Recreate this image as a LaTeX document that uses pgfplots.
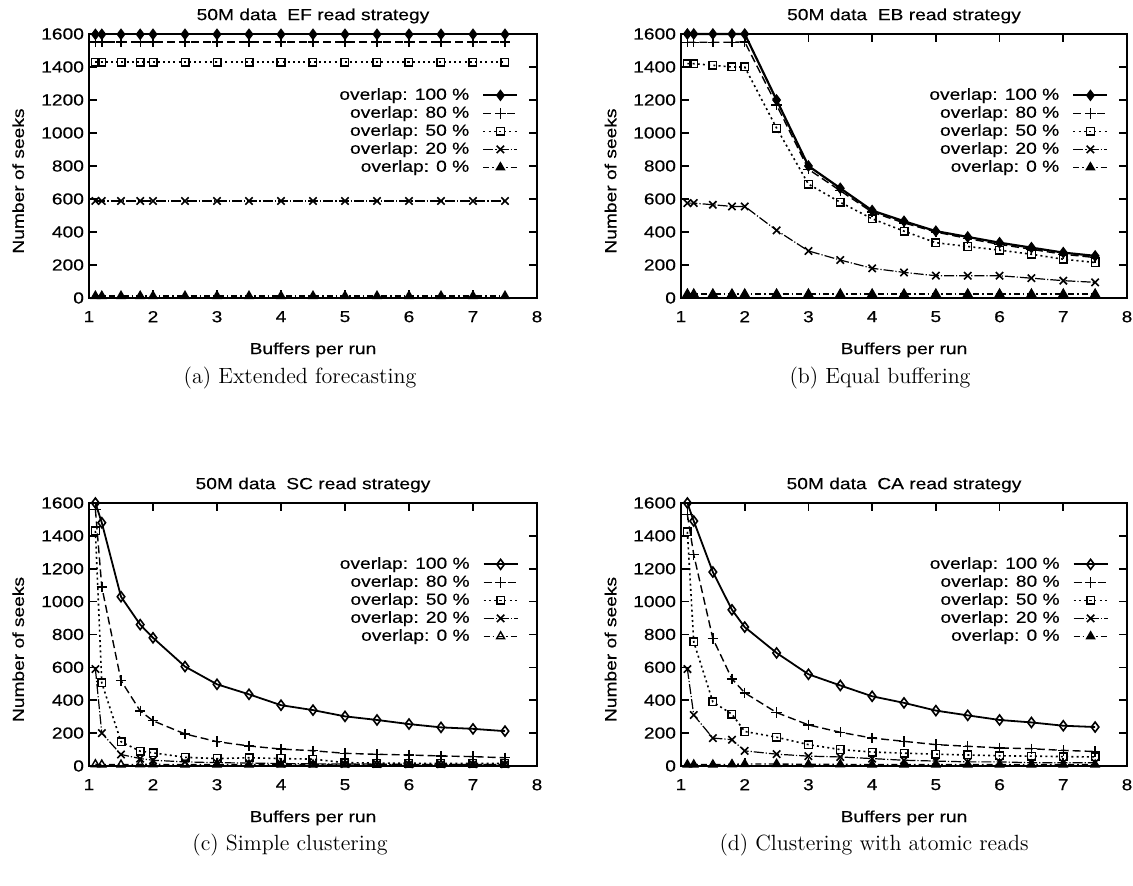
\documentclass[border=0pt]{standalone}
\usepackage{fontspec}
\usepackage{pgfplots}
\usepackage{pgfplotstable}
\pgfplotsset{compat=1.18}
\newfontfamily\gpfont[FakeStretch=1.2,FakeBold=0.4]{Liberation Sans}
\newcommand{\gpf}{\gpfont\fontsize{8}{9}\selectfont}

\pgfplotstableread{
x o100 o80 o50 o20 o0
1.1 1598 1552 1430 588 12
1.2 1598 1552 1430 588 12
1.5 1598 1552 1430 588 12
1.8 1598 1552 1430 588 12
2.0 1598 1552 1430 588 12
2.5 1598 1552 1430 588 12
3.0 1598 1552 1430 588 12
3.5 1598 1552 1430 588 12
4.0 1598 1552 1430 588 12
4.5 1598 1552 1430 588 12
5.0 1598 1552 1430 588 12
5.5 1598 1552 1430 588 12
6.0 1598 1552 1430 588 12
6.5 1598 1552 1430 588 12
7.0 1598 1552 1430 588 12
7.5 1598 1552 1430 588 12
}\EFdata

\pgfplotstableread{
x o100 o80 o50 o20 o0
1.1 1600 1550 1420 575 25
1.2 1600 1550 1420 575 25
1.5 1600 1550 1410 565 25
1.8 1600 1550 1400 555 25
2.0 1600 1552 1400 555 25
2.5 1200 1170 1030 410 25
3.0 800 780 690 285 25
3.5 665 650 580 230 25
4.0 530 520 480 180 25
4.5 465 455 405 155 25
5.0 405 400 335 135 25
5.5 370 360 312 135 25
6.0 335 325 290 135 25
6.5 305 295 265 120 25
7.0 275 265 235 105 25
7.5 255 245 215 95 25
}\EBdata

\pgfplotstableread{
x o100 o80 o50 o20 o0
1.1 1600 1560 1430 590 10
1.2 1480 1090 505 200 8
1.5 1030 520 148 70 8
1.8 860 335 90 45 10
2.0 780 275 80 35 10
2.5 605 195 53 25 8
3.0 497 148 45 20 8
3.5 436 122 50 18 8
4.0 370 103 45 15 8
4.5 340 93 42 13 8
5.0 302 77 20 12 8
5.5 280 71 18 12 8
6.0 255 67 17 10 8
6.5 235 61 15 10 8
7.0 226 57 15 10 8
7.5 212 50 15 10 8
}\SCdata

\pgfplotstableread{
x o100 o80 o50 o20 o0
1.1 1600 1530 1425 590 8
1.2 1490 1285 755 310 8
1.5 1180 775 390 170 8
1.8 950 530 315 160 10
2.0 845 445 210 92 12
2.5 688 325 175 72 12
3.0 558 250 130 60 10
3.5 490 205 100 55 10
4.0 424 170 85 45 8
4.5 384 150 78 35 8
5.0 337 130 72 30 8
5.5 308 120 67 25 8
6.0 280 110 62 25 8
6.5 265 105 60 20 8
7.0 245 95 57 20 8
7.5 237 88 55 20 8
}\CAdata

\pgfplotsset{
  gpaxis/.style={
    scale only axis, width=224pt, height=132pt,
    xmin=1, xmax=8, ymin=0, ymax=1600,
    xtick={1,2,...,8}, ytick={0,200,...,1600},
    clip=false,
    axis line style={line width=1pt},
    tick style={line width=0.8pt, black},
    major tick length=4pt,
    tick align=inside,
    scaled ticks=false,
    /pgf/number format/1000 sep={},
    /pgf/number format/assume math mode=true,
    ticklabel style={font=\gpf},
    xticklabel style={yshift=-3pt},
    yticklabel style={xshift=1pt},
    title style={font=\gpf, at={(axis description cs:0.5,1)}, anchor=center, yshift=3pt},
    xlabel={Buffers per run},
    ylabel={Number of seeks},
    xlabel style={font=\gpf, at={(axis description cs:0.5,0)}, anchor=center, yshift=-26pt},
    ylabel style={font=\gpf, at={(axis description cs:-0.158,0.443)}, anchor=center},
    legend cell align=right,
    legend plot pos=right,
    legend style={draw=none, fill=none, at={(axis description cs:1,1)}, anchor=north east,
      xshift=-6pt, yshift=-24pt, font=\gpf, row sep=0pt,
      nodes={inner ysep=0.5pt, inner xsep=1.5pt, text height=6.2pt, text depth=1.8pt},
      /tikz/every odd column/.append style={column sep=5pt}},
  },
  s100/.style={black, line width=1.1pt, mark=diamond*, mark size=2.5pt, mark options={solid, line width=0.6pt}},
  s100o/.style={black, line width=0.9pt, mark=diamond, mark size=2.5pt, mark options={solid, fill=white, line width=0.8pt}},
  s80/.style={black, line width=0.7pt, dash pattern=on 4pt off 2pt, mark=+, mark size=2.6pt, mark options={solid, line width=0.7pt}},
  s50/.style={black, line width=0.8pt, dash pattern=on 1pt off 1.6pt, mark=square, mark size=1.9pt, mark options={solid, line width=0.7pt, fill=white}},
  s20/.style={black, line width=0.6pt, dash pattern=on 5pt off 1pt on 0.6pt off 1pt, mark=x, mark size=2.6pt, mark options={solid, line width=0.8pt}},
  s0/.style={black, line width=0.7pt, dash pattern=on 3pt off 1.5pt on 0.8pt off 1.5pt, mark=triangle*, mark size=2.3pt, mark options={solid}},
  s0o/.style={black, line width=0.7pt, dash pattern=on 3pt off 1.5pt on 0.8pt off 1.5pt, mark=triangle, mark size=2.3pt, mark options={solid, fill=white, line width=0.7pt}},
}

\begin{document}
\begin{tikzpicture}
\useasboundingbox (0,0) rectangle (566.5pt,443pt);

% (a) EF
\begin{axis}[gpaxis, at={(44.5pt,294pt)}, anchor=south west,
  title={50M data\ \ EF read strategy}]
\addplot[s100] table[x=x,y=o100]{\EFdata};
\addplot[s80] table[x=x,y=o80]{\EFdata};
\addplot[s50] table[x=x,y=o50]{\EFdata};
\addplot[s20] table[x=x,y=o20]{\EFdata};
\addplot[s0] table[x=x,y=o0]{\EFdata};
\legend{overlap: 100 \%, overlap: 80 \%, overlap: 50 \%, overlap: 20 \%, overlap: 0 \%}
\end{axis}

% (b) EB
\begin{axis}[gpaxis, at={(340.5pt,294pt)}, anchor=south west, width=223pt,
  title={50M data\ \ EB read strategy}]
\addplot[s100] table[x=x,y=o100]{\EBdata};
\addplot[s80] table[x=x,y=o80]{\EBdata};
\addplot[s50] table[x=x,y=o50]{\EBdata};
\addplot[s20] table[x=x,y=o20]{\EBdata};
\addplot[s0] table[x=x,y=o0]{\EBdata};
\legend{overlap: 100 \%, overlap: 80 \%, overlap: 50 \%, overlap: 20 \%, overlap: 0 \%}
\end{axis}

% (c) SC
\begin{axis}[gpaxis, at={(44.5pt,60pt)}, anchor=south west, height=131.5pt,
  title={50M data\ \ SC read strategy}]
\addplot[s100o] table[x=x,y=o100]{\SCdata};
\addplot[s80] table[x=x,y=o80]{\SCdata};
\addplot[s50] table[x=x,y=o50]{\SCdata};
\addplot[s20] table[x=x,y=o20]{\SCdata};
\addplot[s0o] table[x=x,y=o0]{\SCdata};
\legend{overlap: 100 \%, overlap: 80 \%, overlap: 50 \%, overlap: 20 \%, overlap: 0 \%}
\end{axis}

% (d) CA
\begin{axis}[gpaxis, at={(340.5pt,60pt)}, anchor=south west, width=223pt, height=131.5pt,
  title={50M data\ \ CA read strategy}]
\addplot[s100o] table[x=x,y=o100]{\CAdata};
\addplot[s80] table[x=x,y=o80]{\CAdata};
\addplot[s50] table[x=x,y=o50]{\CAdata};
\addplot[s20] table[x=x,y=o20]{\CAdata};
\addplot[s0] table[x=x,y=o0]{\CAdata};
\legend{overlap: 100 \%, overlap: 80 \%, overlap: 50 \%, overlap: 20 \%, overlap: 0 \%}
\end{axis}

\node[font=\fontsize{11}{13}\selectfont] at (150pt,254pt) {(a) Extended forecasting};
\node[font=\fontsize{11}{13}\selectfont] at (440pt,254pt) {(b) Equal buffering};
\node[font=\fontsize{11}{13}\selectfont] at (145pt,20.5pt) {(c) Simple clustering};
\node[font=\fontsize{11}{13}\selectfont] at (437pt,20.5pt) {(d) Clustering with atomic reads};
\end{tikzpicture}
\end{document}
